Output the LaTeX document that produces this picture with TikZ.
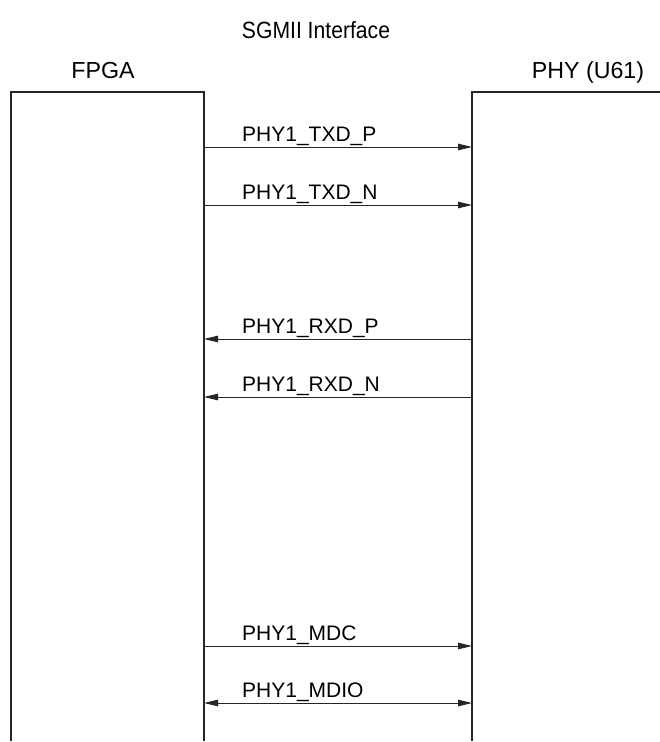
\documentclass[tikz,border=0pt]{standalone}
\usepackage{fontspec}
\setmainfont{Liberation Sans}
\usetikzlibrary{arrows.meta}
\begin{document}
\begin{tikzpicture}[x=1pt,y=-1pt,
  boxline/.style={line width=1.1pt,draw=black!85},
  sig/.style={line width=1pt,draw=black!85,-{Triangle[length=14pt,width=6.5pt]}},
  bisig/.style={line width=1pt,draw=black!85,{Triangle[length=14pt,width=6.5pt]}-{Triangle[length=14pt,width=6.5pt]}},
  lbl/.style={anchor=base west,inner sep=0pt,font=\fontsize{21}{24}\selectfont},
  ttl/.style={anchor=base,inner sep=0pt,font=\fontsize{23.5}{26}\selectfont},
  hdr/.style={anchor=base,inner sep=0pt,font=\fontsize{23.2}{26}\selectfont}]
\useasboundingbox (0,0) rectangle (659,742);
% titles
\node[ttl] (title) at (316,38) {\scalebox{0.9}[1]{SGMII Interface}};
\node[hdr] (fpgat) at (103,78) {FPGA};
\node[hdr] (phyt) at (588,78) {PHY (U61)};
% boxes
\draw[boxline] (11,741) -- (11,92) -- (204,92) -- (204,741);
\draw[boxline] (472,741) -- (472,92) -- (660,92);
% endpoints
\foreach \n/\y in {a/147,b/205,c/339,d/397,e/646,f/703}{
  \coordinate (L\n) at (204,\y);
  \coordinate (R\n) at (472,\y);
}
\draw[sig] (La) -- (Ra);
\draw[sig] (Lb) -- (Rb);
\draw[sig] (Rc) -- (Lc);
\draw[sig] (Rd) -- (Ld);
\draw[sig] (Le) -- (Re);
\draw[bisig] (Lf) -- (Rf);
\node[lbl] (la) at (242,141) {PHY1\_TXD\_P};
\node[lbl] (lb) at (242,199) {PHY1\_TXD\_N};
\node[lbl] (lc) at (242,333) {PHY1\_RXD\_P};
\node[lbl] (ld) at (242,391) {PHY1\_RXD\_N};
\node[lbl] (le) at (242,640) {PHY1\_MDC};
\node[lbl] (lf) at (242,697) {PHY1\_MDIO};
\end{tikzpicture}
\end{document}
